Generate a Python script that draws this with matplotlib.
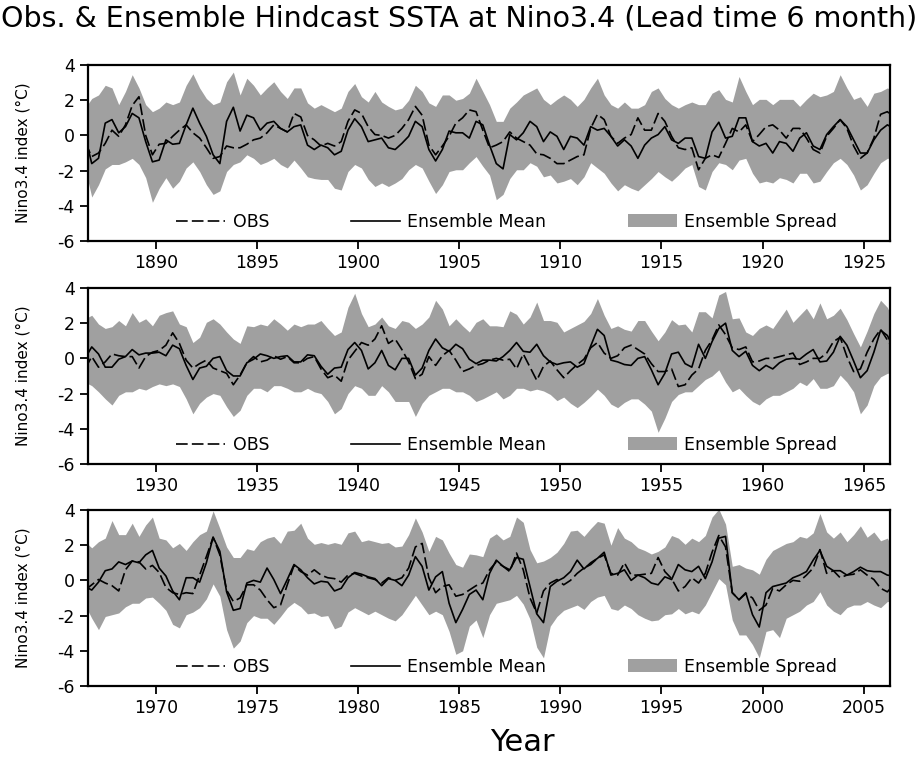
import numpy as np
import matplotlib
matplotlib.use("Agg")
import matplotlib.pyplot as plt
from matplotlib.lines import Line2D
from matplotlib.patches import Patch

plt.rcParams['font.family'] = ['DejaVu Sans']
plt.rcParams['axes.unicode_minus'] = False

# values every 4 months, three 40-year windows
starts = [1886.5, 1926.5, 1966.5]

mean1 = [0.0, -1.6, -1.3, 0.7, 0.9, 0.15, 0.5, 1.25, 1.0, -0.35, -1.5, -1.4, -0.25, -0.5, -0.45, 0.6, 1.55, 0.7, -0.05, -1.1, -1.6, 0.8, 1.6, 0.25, 1.15, 1.0, 0.3, 0.7, 0.8, 0.4, 0.2,
         0.5, 0.6, -0.55, -0.8, -0.55, -0.7, -1.1, -0.9, 0.3, 0.95, 0.5, -0.35, -0.25, -0.15, -0.7, -0.8, -0.45, -0.05, 0.8, 0.5, -0.8, -1.45, -0.8, 0.25, 0.15, 0.15, -0.15, 0.8, 0.6, -0.55,
         -1.6, -1.9, 0.05, -0.25, 0.15, 0.8, 0.5, -0.35, 0.2, -0.05, -0.8, -0.05, -0.15, -0.55, 0.5, 0.3, 0.4, -0.05, -0.6, -0.25, -0.6, -1.3, -0.55, -0.15, 0.05, 0.5, -0.25, -0.45, -0.15, -0.15,
         -1.2, -1.3, 0.2, 0.75, -0.15, -0.05, 1.0, 1.0, -0.35, -0.6, -0.45, -1.0, -0.35, -0.45, -0.9, -0.15, 0.15, -0.6, -0.8, 0.05, 0.5, 0.9, 0.5, -0.25, -1.0, -1.0, -0.25, 0.3, 0.6, 0.4]
obs1 = [-0.4, -1.2, -1.0, -0.45, 0.3, -0.05, 0.6, 1.7, 2.2, 0.0, -1.1, -0.5, -0.45, -0.05, 0.3, 0.6, 0.15, -0.15, -0.7, -1.3, -1.2, -0.6, -0.7, -0.7, -0.5, -0.25, -0.15, 0.15, 0.6, 0.4, 0.2,
        1.25, 1.05, 0.0, -0.25, -0.6, -0.45, -0.6, -0.35, 0.8, 1.45, 1.25, 0.5, 0.05, 0.0, -0.15, 0.0, 0.4, 0.9, 1.65, 1.15, -0.55, -1.1, -0.6, -0.05, 0.7, 1.0, 1.45, 1.35, 0.3, -0.7,
        -0.55, -0.35, 0.2, -0.15, -0.35, -0.55, -1.05, -1.1, -1.3, -1.6, -1.6, -1.4, -1.2, -1.1, 0.4, 1.2, 0.9, -0.05, -0.45, -0.15, 0.05, 1.0, 0.3, 0.3, 1.25, 0.8, -0.05, -0.7, -0.8, -0.7,
        -1.95, -1.3, -1.1, -1.25, -0.45, 0.4, 0.2, 0.6, -0.35, 0.05, 0.5, 0.6, 0.3, -0.15, 0.4, 0.4, -0.15, -0.8, -1.0, -0.05, 0.4, 0.9, 0.4, -0.6, -1.3, -1.0, -0.15, 1.2, 1.35, 1.0]
up1 = [1.55, 2.1, 2.3, 2.85, 2.7, 1.75, 2.5, 3.45, 2.7, 1.75, 1.35, 1.55, 1.9, 1.75, 1.9, 2.85, 3.5, 2.7, 2.1, 1.75, 1.9, 3.05, 3.6, 2.3, 3.25, 2.85, 2.3, 2.7, 3.05, 2.5, 2.1,
       2.7, 2.7, 1.85, 1.55, 1.75, 1.55, 1.35, 1.55, 2.5, 2.95, 2.2, 1.9, 2.5, 1.9, 1.65, 1.45, 1.55, 2.0, 2.85, 2.5, 1.85, 1.65, 2.3, 2.3, 2.0, 2.1, 2.4, 3.25, 2.5, 1.75,
       0.8, 0.8, 1.55, 1.9, 2.3, 2.5, 2.7, 2.05, 1.75, 2.05, 2.3, 2.05, 1.65, 2.05, 2.7, 3.25, 2.3, 1.75, 1.55, 1.9, 1.55, 1.55, 1.75, 2.5, 2.7, 2.1, 1.75, 1.55, 1.75, 1.9,
       1.75, 1.75, 2.4, 2.6, 2.05, 1.9, 3.35, 2.5, 1.75, 2.05, 2.05, 1.75, 2.05, 2.05, 2.05, 1.65, 2.05, 2.4, 2.2, 2.3, 2.5, 3.45, 2.7, 2.05, 2.2, 1.65, 2.4, 2.5, 2.7, 2.5]
lo1 = [-1.85, -3.5, -2.8, -1.9, -1.65, -1.65, -1.5, -1.3, -1.65, -2.4, -3.8, -3.0, -2.4, -3.0, -2.6, -1.85, -1.5, -2.05, -2.8, -3.35, -3.15, -2.05, -1.65, -1.5, -1.1, -1.3, -1.65, -1.5, -1.3, -1.65, -1.85,
       -1.4, -1.85, -2.35, -2.45, -2.5, -2.5, -3.0, -3.1, -2.05, -1.65, -1.85, -2.5, -2.9, -2.7, -2.9, -2.7, -2.45, -1.95, -1.65, -1.85, -2.6, -3.3, -2.8, -2.05, -1.95, -1.95, -1.55, -1.2, -1.75, -2.25,
       -3.65, -3.35, -2.45, -1.95, -1.95, -1.55, -1.75, -2.35, -2.25, -2.7, -2.6, -2.45, -2.8, -2.35, -1.55, -1.85, -2.15, -2.7, -3.15, -2.8, -3.0, -3.15, -2.8, -2.45, -2.05, -2.35, -2.6, -2.25, -1.85, -1.65,
       -2.9, -3.1, -2.05, -1.55, -1.65, -1.95, -1.4, -1.3, -2.15, -2.7, -2.6, -2.7, -2.4, -2.5, -2.7, -2.15, -2.15, -2.7, -2.6, -2.05, -1.55, -1.3, -1.65, -2.25, -3.1, -2.8, -2.15, -1.55, -1.3, -1.3]

mean2 = [0.0, 0.65, 0.25, -0.5, -0.5, -0.05, 0.1, 0.5, 0.2, 0.3, 0.3, 0.35, 0.15, 0.75, 0.55, -0.4, -1.2, -0.55, -0.45, 0.0, 0.1, -0.7, -1.0, -1.0, -0.25, -0.05, 0.25, 0.15, 0.0, 0.1, 0.15,
         -0.2, -0.2, 0.2, 0.15, -0.45, -0.9, -0.55, -0.5, 0.5, 0.9, 0.45, -0.6, -0.25, 0.45, -0.4, -0.65, 0.0, 0.0, -0.95, -0.55, 0.45, 1.1, 0.6, 0.4, 0.8, 0.55, -0.05, -0.3, -0.1, -0.1,
         -0.15, 0.1, 0.45, 0.9, 0.4, 0.35, 0.8, 0.15, -0.2, -0.35, -0.25, -0.2, -0.5, -0.3, 0.7, 1.65, 1.3, -0.1, -0.2, -0.35, -0.4, 0.0, 0.1, -0.65, -1.5, -0.85, 0.25, 0.35, -0.3, -0.5,
         0.8, 0.0, 0.95, 1.7, 2.0, 0.45, 0.1, 0.4, -0.4, -0.7, -0.4, -0.6, -0.25, -0.05, 0.0, -0.05, 0.25, 0.5, -0.2, -0.15, 0.35, 1.25, 0.75, -0.15, -1.1, -0.7, 0.35, 1.6, 1.3, 0.55]
obs2 = [-0.6, 0.1, -0.5, -0.2, 0.25, 0.15, 0.1, 0.1, -0.55, 0.1, 0.35, 0.45, 0.75, 1.45, 0.85, -0.1, -0.55, -0.3, -0.1, -0.55, -0.7, -0.85, -1.5, -0.95, -0.25, 0.1, -0.2, -0.1, 0.15, -0.05, 0.1,
        -0.25, -0.25, 0.0, 0.1, -0.6, -1.1, -0.95, -1.3, -0.1, 0.4, 0.9, 0.75, 1.1, 1.85, 0.85, 1.1, 0.5, -0.2, -1.15, -0.9, 0.1, -0.4, 0.15, 0.45, -0.1, -0.75, -0.6, -0.4, -0.3, -0.1,
        0.0, -0.1, -0.05, -0.6, 0.25, -0.5, -1.25, -0.45, -0.15, -0.65, -1.1, -0.7, -0.35, -0.05, 0.6, 0.9, 0.3, 0.0, 0.15, 0.6, 0.75, 0.5, 0.25, -0.3, -0.75, -0.75, -0.6, -1.6, -1.5, -0.95,
        -0.6, 0.45, 1.05, 1.9, 1.35, 0.6, 0.5, 0.65, -0.2, -0.15, 0.0, 0.0, 0.1, 0.2, 0.3, -0.35, -0.2, 0.0, 0.0, 0.3, 0.95, 1.2, 0.1, -0.75, -0.6, 0.35, 1.1, 1.65, 1.05, 0.45]
up2 = [2.25, 2.45, 1.95, 1.7, 1.8, 2.15, 1.85, 2.6, 2.05, 2.25, 1.85, 2.45, 2.6, 2.7, 1.95, 1.8, 0.9, 1.2, 2.05, 2.25, 1.95, 1.5, 1.1, 0.85, 1.85, 1.8, 1.95, 1.85, 2.25, 1.95, 1.6,
       1.95, 1.8, 1.95, 1.95, 2.15, 1.7, 1.3, 1.5, 2.9, 3.7, 2.55, 1.8, 1.95, 2.35, 1.85, 1.7, 2.15, 2.05, 1.7, 1.95, 2.35, 3.3, 2.8, 1.85, 2.25, 1.85, 1.5, 2.05, 2.25, 1.85,
       1.85, 1.8, 2.7, 2.5, 1.95, 2.35, 3.2, 2.15, 2.15, 2.05, 1.5, 1.7, 1.9, 2.1, 2.55, 3.4, 2.45, 1.7, 1.85, 1.65, 1.55, 2.15, 2.15, 1.55, 1.0, 1.5, 2.2, 1.9, 1.95, 1.5,
       2.65, 2.65, 2.3, 3.6, 3.8, 2.25, 2.3, 1.5, 1.3, 1.7, 1.9, 1.7, 2.25, 2.8, 2.05, 2.45, 2.85, 2.25, 3.15, 2.25, 2.45, 2.85, 2.2, 1.4, 0.65, 1.55, 2.55, 3.3, 2.9, 2.05]
lo2 = [-1.35, -1.55, -1.9, -2.3, -2.65, -2.1, -1.9, -1.9, -1.7, -1.8, -1.6, -1.45, -1.55, -1.45, -1.6, -2.3, -3.15, -2.55, -2.2, -2.0, -2.1, -2.75, -3.3, -2.95, -2.1, -1.7, -1.7, -1.9, -1.55, -1.55, -1.7,
       -1.9, -1.9, -1.7, -1.9, -2.0, -2.45, -3.15, -2.85, -2.0, -1.55, -1.7, -2.1, -2.1, -1.55, -1.9, -2.45, -2.45, -2.45, -3.3, -2.55, -2.1, -1.9, -1.7, -1.7, -1.9, -1.9, -2.1, -2.45, -2.3, -2.1,
       -1.9, -2.3, -2.1, -1.7, -1.7, -1.85, -1.75, -1.85, -2.05, -2.4, -2.2, -2.55, -2.8, -2.5, -2.15, -1.75, -2.1, -2.6, -2.8, -2.5, -2.3, -2.3, -2.6, -3.0, -4.2, -3.4, -2.45, -2.05, -1.9, -1.9,
       -1.55, -1.2, -1.0, -0.65, -1.35, -1.9, -1.7, -2.1, -2.45, -2.65, -2.3, -2.1, -2.1, -1.9, -1.7, -1.35, -1.55, -1.15, -1.7, -1.7, -1.55, -0.95, -1.35, -1.9, -3.15, -2.65, -1.55, -1.05, -0.85, -0.8]

mean3 = [-0.35, -0.55, -0.1, 0.55, 0.65, 1.05, 0.9, 1.1, 1.0, 1.45, 1.7, 0.7, 0.25, -0.6, -1.1, 0.15, 0.15, -0.1, 1.0, 2.45, 1.65, -0.65, -1.7, -1.6, -0.15, 0.0, -0.1, 0.7, 0.05, -0.75, 0.05,
         0.9, 0.6, 0.15, -0.2, -0.05, -0.1, -0.6, -0.45, 0.15, 0.45, 0.35, 0.2, 0.1, -0.3, 0.1, 0.0, -0.3, 0.3, 1.35, 0.8, -0.55, 0.2, 0.5, -1.3, -2.4, -1.65, -0.8, -0.55, -1.1, 0.4,
         1.15, 0.8, 0.6, 1.3, 1.2, -0.35, -1.9, -2.4, -0.35, -0.05, 0.15, 0.5, 1.15, 0.65, 1.0, 1.25, 1.6, 0.3, 0.4, 0.6, 0.0, 0.3, 0.15, -0.15, -0.25, 0.2, 0.05, 0.9, 0.6, 0.5,
         0.8, 0.1, 1.05, 2.4, 2.5, -0.7, -1.1, -0.7, -1.95, -2.65, -0.7, -0.35, -0.25, -0.15, 0.15, 0.3, 0.5, 1.15, 1.7, 0.8, 0.55, 0.55, 0.3, 0.5, 0.75, 0.55, 0.5, 0.5, 0.3, 0.25]
obs3 = [-0.55, -0.25, 0.05, -0.15, -0.3, -0.6, 0.6, 1.1, 1.05, 0.65, 0.85, 0.45, -0.4, -0.7, -0.8, -0.7, -0.75, 0.3, 1.35, 2.45, 1.45, -0.55, -1.2, -1.0, -0.25, -0.25, -0.55, -1.1, -1.55, -1.4, -0.25,
        0.85, 0.5, 0.3, 0.6, 0.3, 0.15, 0.1, -0.1, 0.3, 0.4, 0.25, 0.15, 0.05, -0.15, 0.15, 0.0, 0.15, 0.7, 1.9, 2.1, 0.15, -0.7, -0.35, -0.25, -0.9, -0.8, -0.55, -0.3, -0.15, 0.6,
        1.05, 0.8, 0.5, 1.55, 0.6, -1.0, -1.85, -0.6, -0.15, 0.05, -0.25, 0.0, 0.4, 0.7, 0.9, 1.25, 1.45, 0.4, 0.3, 1.0, 0.3, 0.3, 0.35, 0.4, 1.3, 0.5, 0.1, -0.6, -0.35, 0.15,
        -0.15, 0.4, 1.6, 2.55, 1.9, -0.7, -1.1, -0.75, -1.0, -1.7, -1.4, -0.45, -0.6, -0.25, 0.0, -0.05, 0.3, 0.7, 1.75, 0.4, 0.55, 0.15, 0.3, 0.35, 0.6, 0.3, 0.05, -0.45, -0.65, -0.25]
up3 = [2.2, 1.85, 2.2, 2.4, 3.4, 2.6, 2.6, 3.25, 2.5, 3.15, 3.6, 2.4, 2.3, 1.85, 2.1, 1.7, 2.2, 2.6, 2.8, 3.95, 2.95, 1.9, 1.3, 1.3, 1.8, 1.7, 2.2, 2.4, 2.5, 2.1, 2.8,
       2.85, 3.25, 2.4, 2.05, 2.15, 2.05, 2.15, 2.05, 2.7, 2.8, 2.2, 2.3, 2.2, 2.1, 2.15, 1.9, 1.95, 2.6, 3.55, 2.75, 1.65, 2.5, 2.3, 1.55, 0.9, 0.75, 1.5, 1.45, 1.35, 2.4,
       2.65, 2.3, 2.5, 3.6, 3.3, 1.75, 1.0, 1.1, 1.3, 1.6, 2.1, 2.8, 2.85, 2.5, 2.95, 3.35, 3.25, 2.0, 3.0, 2.4, 2.2, 1.85, 1.7, 1.5, 1.65, 1.9, 2.55, 2.4, 2.05, 2.4,
       2.2, 2.55, 3.6, 4.05, 3.2, 0.8, 0.9, 0.7, 0.6, 0.35, 1.2, 1.7, 1.9, 2.1, 2.2, 2.5, 2.4, 2.7, 3.8, 2.75, 2.4, 2.75, 2.2, 2.6, 3.1, 2.45, 2.75, 2.25, 2.4, 1.65]
lo3 = [-1.4, -2.15, -2.8, -2.05, -1.95, -1.85, -1.5, -1.3, -1.3, -1.0, -0.95, -1.3, -1.7, -2.5, -2.7, -1.95, -1.8, -1.55, -1.05, -0.2, -0.9, -2.8, -3.85, -3.45, -2.4, -2.0, -2.15, -2.15, -2.5, -2.05, -1.55,
       -1.25, -1.5, -1.9, -1.85, -2.05, -2.0, -2.75, -2.6, -1.8, -1.55, -1.75, -1.95, -1.75, -1.95, -2.15, -2.3, -1.95, -1.4, -0.85, -1.4, -1.95, -1.75, -1.95, -2.9, -4.2, -4.0, -2.6, -2.25, -3.25, -1.95,
       -1.3, -1.2, -1.1, -0.85, -1.35, -2.2, -3.8, -4.4, -2.6, -2.05, -1.7, -1.55, -1.4, -1.65, -1.2, -0.95, -0.85, -1.6, -1.7, -1.4, -1.6, -1.95, -2.15, -2.3, -2.25, -1.95, -1.9, -1.6, -1.9, -1.75,
       -1.9, -1.4, -0.65, 0.1, -0.25, -2.25, -3.1, -3.1, -3.65, -4.4, -2.9, -2.8, -3.25, -2.15, -1.95, -1.75, -1.4, -1.2, -0.65, -1.4, -1.75, -1.95, -1.55, -1.4, -1.4, -1.2, -1.4, -1.55, -1.2, -1.2]

panels = [(mean1, obs1, up1, lo1), (mean2, obs2, up2, lo2), (mean3, obs3, up3, lo3)]
tops = [0.9142, 0.6201, 0.3272]
spread_col = '#a0a0a0'
obs_dash = (0, (7, 2.5))

fig = plt.figure(figsize=(9.19, 7.58), dpi=100)

for i, (mean, obs, up, lo) in enumerate(panels):
    t0 = starts[i]
    t = t0 + np.arange(len(mean)) / 3.0
    ax = fig.add_axes([0.0958, tops[i] - 0.2322, 0.8727, 0.2322])
    ax.fill_between(t, lo, up, color=spread_col, lw=0)
    ax.plot(t, obs, color='k', lw=1.2, ls=obs_dash)
    ax.plot(t, mean, color='k', lw=1.2)

    first = int(t0 + 3.5)
    ax.set_xlim(t0 + 0.15, t0 + 39.8)
    ax.set_ylim(-6, 4)
    ax.set_xticks(np.arange(first, first + 36, 5))
    ax.set_yticks([-6, -4, -2, 0, 2, 4])
    ax.tick_params(direction='out', length=6, width=1.3, labelsize=12.5, top=False, right=False)
    for s in ax.spines.values():
        s.set_linewidth(1.6)
    ax.set_ylabel('Nino3.4 index (°C)', fontsize=11)
    ax.yaxis.set_label_coords(-0.072, 0.5)

    handles = [Line2D([], [], color='k', lw=1.2, ls=obs_dash),
               Line2D([], [], color='k', lw=1.2),
               Patch(facecolor=spread_col, edgecolor='none')]
    ax.legend(handles, ['OBS', 'Ensemble Mean', 'Ensemble Spread'], ncol=3,
              loc='lower left', bbox_to_anchor=(0.095, -0.01), frameon=False,
              fontsize=12.5, handlelength=2.8, handletextpad=0.45,
              columnspacing=4.7, borderaxespad=0.3)

fig.text(0.5, 0.976, 'Obs. & Ensemble Hindcast SSTA at Nino3.4 (Lead time 6 month)',
         ha='center', va='center', fontsize=20.5)
fig.text(0.568, 0.021, 'Year', ha='center', va='center', fontsize=22)

fig.savefig('out.png', dpi=100)
